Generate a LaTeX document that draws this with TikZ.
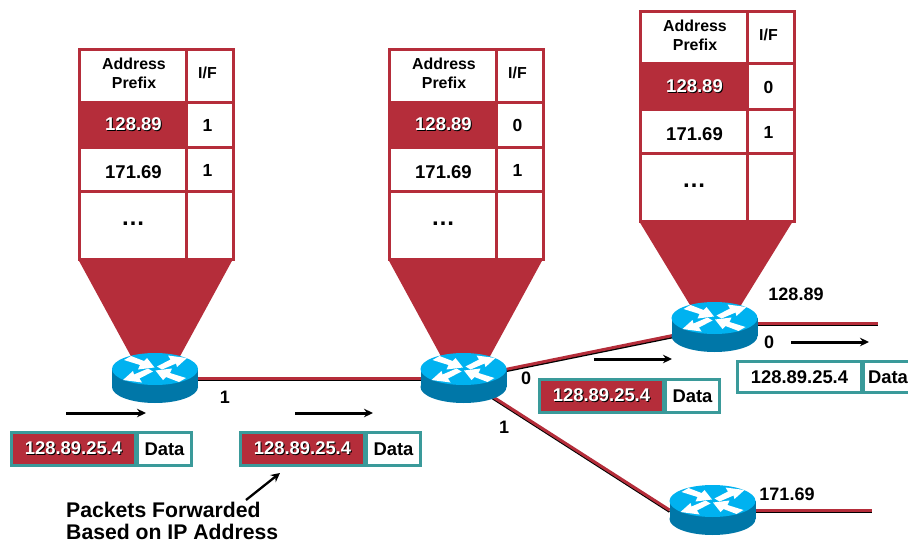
\documentclass[tikz,border=0pt]{standalone}
\usepackage{fontspec}
\setmainfont{Liberation Sans}
\usetikzlibrary{arrows.meta,calc}
\definecolor{brick}{HTML}{B52D3A}
\definecolor{tealx}{HTML}{3A9A9A}
\definecolor{skyx}{HTML}{00B2F0}
\definecolor{sidex}{HTML}{0077A8}
\tikzset{
  x=1pt,y=-1pt,
  routerbox/.style={minimum width=86pt,minimum height=50pt,inner sep=0pt,outer sep=0pt},
  linkshadow/.style={line width=2pt,black},
  linkred/.style={line width=3pt,brick},
  moveflow/.style={line width=2.3pt,black,-{Stealth[length=9pt,width=9pt]}},
  levelflow/.style={line width=3pt,black,-{Stealth[length=9pt,width=8.5pt]}},
  tcell/.style={draw=brick,line width=3pt,fill=white,inner sep=0pt,outer sep=0pt,anchor=north west},
  hotcell/.style={tcell,fill=brick},
  headtxt/.style={font=\bfseries\fontsize{15.9}{18.8}\selectfont,align=center,inner sep=0pt},
  celltxt/.style={font=\bfseries\fontsize{18.5}{20}\selectfont,inner sep=0pt},
  iftxt/.style={font=\bfseries\fontsize{17.5}{20}\selectfont,inner sep=0pt},
  lbl/.style={font=\bfseries\fontsize{18}{20}\selectfont,inner sep=0pt},
  pkt/.style={draw=tealx,line width=3pt,inner sep=0pt,outer sep=0pt,anchor=north west,
    font=\bfseries\fontsize{18.4}{20}\selectfont},
  pktred/.style={pkt,fill=brick,text=white},
  pktwhite/.style={pkt,fill=white,text=black},
}
\newcommand{\shadowed}[1]{\rlap{\raisebox{-1pt}{\hspace{1pt}\textcolor{black}{#1}}}\textcolor{white}{#1}}
\newcommand{\routerat}[3]{%
  \begin{scope}[shift={(#2,#3)}]
    \fill[sidex] (-43,-9) rectangle (43,9);
    \fill[sidex] (0,9) ellipse [x radius=43,y radius=16];
    \fill[skyx] (0,-9) ellipse [x radius=43,y radius=16];
    \begin{scope}[shift={(0,-9)}]
      \foreach \r in {0,180}{
      \begin{scope}[rotate=\r]
      \fill[white] (32,-11) -- (13,-13.5) -- (15.5,-9.5) -- (2,-2.5) -- (7,0.5) -- (21,-5.5) -- (22,-2) -- cycle;
      \fill[white] (-31,-9) -- (-24,-13) -- (-11,-8) -- (-8,-11) -- (-0.5,-1.5) -- (-17,0.5) -- (-15,-4) -- cycle;
      \end{scope}}
    \end{scope}
  \end{scope}}
\newcommand{\routetable}[5]{%
  \begin{scope}[shift={(#2,#3)}]
    \node[tcell,minimum width=107pt,minimum height=52pt] (#1a0) at (0,0) {};
    \node[tcell,minimum width=47pt,minimum height=52pt] (#1b0) at (107,0) {};
    \node[hotcell,minimum width=107pt,minimum height=45pt] (#1a1) at (0,52) {};
    \node[tcell,minimum width=47pt,minimum height=45pt] (#1b1) at (107,52) {};
    \node[tcell,minimum width=107pt,minimum height=44pt] (#1a2) at (0,97) {};
    \node[tcell,minimum width=47pt,minimum height=44pt] (#1b2) at (107,97) {};
    \node[tcell,minimum width=107pt,minimum height=68pt] (#1a3) at (0,141) {};
    \node[tcell,minimum width=47pt,minimum height=68pt] (#1b3) at (107,141) {};
    \node[headtxt] (#1h) at (55,23.5) {Address\\Prefix};
    \node[headtxt] (#1i) at (128.5,23) {I/F};
    \node[celltxt] (#1p) at (54.5,75) {\shadowed{128.89}};
    \node[iftxt] (#1x) at (128.5,75) {#4};
    \node[celltxt] (#1q) at (54.5,122) {171.69};
    \node[iftxt] (#1y) at (128.5,120) {#5};
    \node[font=\bfseries\fontsize{24}{24}\selectfont,inner sep=0pt] (#1d) at (54,174) {…};
  \end{scope}}
\newcommand{\packetred}[3]{%
  \node[pktred,minimum width=124pt,minimum height=33pt] (#1a) at (#2,#3) {\shadowed{128.89.25.4}};
  \node[pktwhite,minimum width=54pt,minimum height=33pt] (#1d) at (#2+126,#3) {Data};}
\begin{document}
\begin{tikzpicture}
\useasboundingbox (0,0) rectangle (908,543);
\fill[brick] (78,259) -- (233,259) -- (178,360) -- (133,360) -- cycle;
\fill[brick] (388,259) -- (543,259) -- (488,360) -- (443,360) -- cycle;
\fill[brick] (639,221) -- (793,221) -- (738,310) -- (693,310) -- cycle;
\routetable{ta}{79}{50}{1}{1}
\routetable{tb}{389}{50}{0}{1}
\routetable{tc}{640}{12}{0}{1}
\node[routerbox] (r1) at (155,378) {};
\node[routerbox] (r2) at (463.5,378) {};
\node[routerbox] (r3) at (714.5,327) {};
\node[routerbox] (r4) at (712.5,510) {};
\coordinate (e3a) at (740,323.6);
\coordinate (e3b) at (878,323.6);
\coordinate (e4a) at (740,510.6);
\coordinate (e4b) at (872,510.6);
\foreach \a/\b in {r1.east/r2.west,r2.center/r3.center,r2.center/r4.west,e3a/e3b,e4a/e4b}{
  \draw[linkshadow] ([yshift=-1.8pt]\a) -- ([yshift=-1.8pt]\b);
  \draw[linkred] (\a) -- (\b);
}
\routerat{r1}{155}{378}
\routerat{r2}{463.5}{378}
\routerat{r3}{714.5}{327}
\routerat{r4}{712.5}{510}
\packetred{pa}{11.5}{432.5}
\packetred{pb}{240.5}{432.5}
\packetred{pc}{539.5}{379.5}
\node[pktwhite,minimum width=124pt,minimum height=31pt] (pda) at (737.5,361.5) {128.89.25.4};
\node[pktwhite,minimum width=49pt,minimum height=31pt] (pdd) at (863.5,361.5) {Data};
\coordinate (fa1) at (66,413); \coordinate (fa2) at (146,413);
\coordinate (fb1) at (295,413); \coordinate (fb2) at (373,413);
\coordinate (fc1) at (594,359); \coordinate (fc2) at (672,359);
\coordinate (fd1) at (791,342); \coordinate (fd2) at (869,342);
\draw[levelflow] (fa1) -- (fa2);
\draw[levelflow] (fb1) -- (fb2);
\draw[levelflow] (fc1) -- (fc2);
\draw[levelflow] (fd1) -- (fd2);
\node[lbl] (l1) at (225,397) {1};
\node[lbl] (l2) at (526,378) {0};
\node[lbl] (l3) at (504,427) {1};
\node[lbl] (l4) at (796,294) {128.89};
\node[lbl] (l5) at (769,342) {0};
\node[lbl] (l6) at (787,494) {171.69};
\node[font=\bfseries\fontsize{21.2}{22.5}\selectfont,align=left,inner sep=0pt,anchor=north west] (cap) at (66,501.5) {Packets Forwarded\\Based on IP Address};
\coordinate (capfrom) at (246,500);
\coordinate (capto) at (280,473);
\draw[moveflow] (capfrom) -- (capto);
\end{tikzpicture}
\end{document}
